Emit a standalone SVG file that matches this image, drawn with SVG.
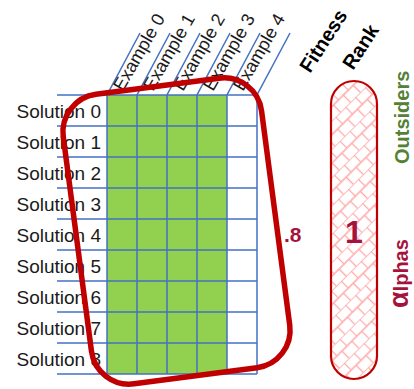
<svg xmlns="http://www.w3.org/2000/svg" width="414" height="389" viewBox="0 0 414 389">
  <style>
    .grid { stroke: #4472C4; stroke-width: 1.5; fill: none; }
    .cell { fill: #92D050; }
    .row { font-family: "Liberation Sans", Arial, sans-serif; font-size: 19px; fill: #1a1a1a; text-anchor: end; }
    .col { font-family: "Liberation Sans", Arial, sans-serif; font-size: 18px; fill: #1a1a1a; }
    .head { font-family: "Liberation Sans", Arial, sans-serif; font-size: 20px; font-weight: bold; fill: #000; }
    .maroon { font-family: "Liberation Sans", Arial, sans-serif; font-weight: bold; fill: #A5123C; }
    .green { font-family: "Liberation Sans", Arial, sans-serif; font-weight: bold; fill: #538135; }
    .loop { fill: none; stroke: #C00000; stroke-width: 5.5; }
  </style>
  <defs>
    <pattern id="brick" width="14" height="20" patternUnits="userSpaceOnUse" patternTransform="rotate(-45)">
      <path d="M0 0H14M0 10H14M0.5 0V10M7.5 10V20" stroke="#FFA8A8" stroke-width="1.3" fill="none"/>
    </pattern>
  </defs>
  <rect width="414" height="389" fill="#fff"/>

  <!-- evaluation matrix -->
  <g id="matrix">
    <rect class="cell" x="107" y="95" width="120" height="279"/>
    <path class="grid" d="M57 95H257M57 126H257M57 157H257M57 188H257M57 219H257M57 250H257M57 281H257M57 312H257M57 343H257M57 374H257"/>
    <path class="grid" d="M107 374V95L140 33M137 374V95L170 33M167 374V95L200 33M197 374V95L230 33M227 374V95L260 33M257 374V95L290 33"/>
  </g>

  <g id="solutions">
    <text class="row" x="101" y="118">Solution 0</text>
    <text class="row" x="101" y="149">Solution 1</text>
    <text class="row" x="101" y="180">Solution 2</text>
    <text class="row" x="101" y="211">Solution 3</text>
    <text class="row" x="101" y="242">Solution 4</text>
    <text class="row" x="101" y="273">Solution 5</text>
    <text class="row" x="101" y="304">Solution 6</text>
    <text class="row" x="101" y="335">Solution 7</text>
    <text class="row" x="101" y="366">Solution 8</text>
  </g>

  <g id="examples">
    <text class="col" transform="translate(123 92) rotate(-60)">Example 0</text>
    <text class="col" transform="translate(153 92) rotate(-60)">Example 1</text>
    <text class="col" transform="translate(183 92) rotate(-60)">Example 2</text>
    <text class="col" transform="translate(213 92) rotate(-60)">Example 3</text>
    <text class="col" transform="translate(243 92) rotate(-60)">Example 4</text>
  </g>

  <!-- selected group -->
  <g id="group">
    <rect class="loop" x="-100" y="-146" width="200" height="292" rx="38" transform="translate(176.5 231) rotate(-7.5)"/>
    <text class="maroon" x="284" y="242" font-size="21">.8</text>
  </g>

  <g id="headers">
    <text class="head" transform="translate(310 74) rotate(-57)">Fitness</text>
    <text class="head" transform="translate(353 71) rotate(-57)">Rank</text>
  </g>

  <g id="rank">
    <rect x="331" y="81" width="46" height="298" rx="23" fill="url(#brick)" stroke="#C00000" stroke-width="2.2"/>
    <text class="maroon" x="354" y="243" font-size="32" text-anchor="middle">1</text>
  </g>

  <g id="labels">
    <text class="green" font-size="20" transform="translate(409 164) rotate(-90)">Outsiders</text>
    <text class="maroon" font-size="20" transform="translate(408 308) rotate(-90)"><tspan font-size="27">α</tspan>lphas</text>
  </g>
</svg>
